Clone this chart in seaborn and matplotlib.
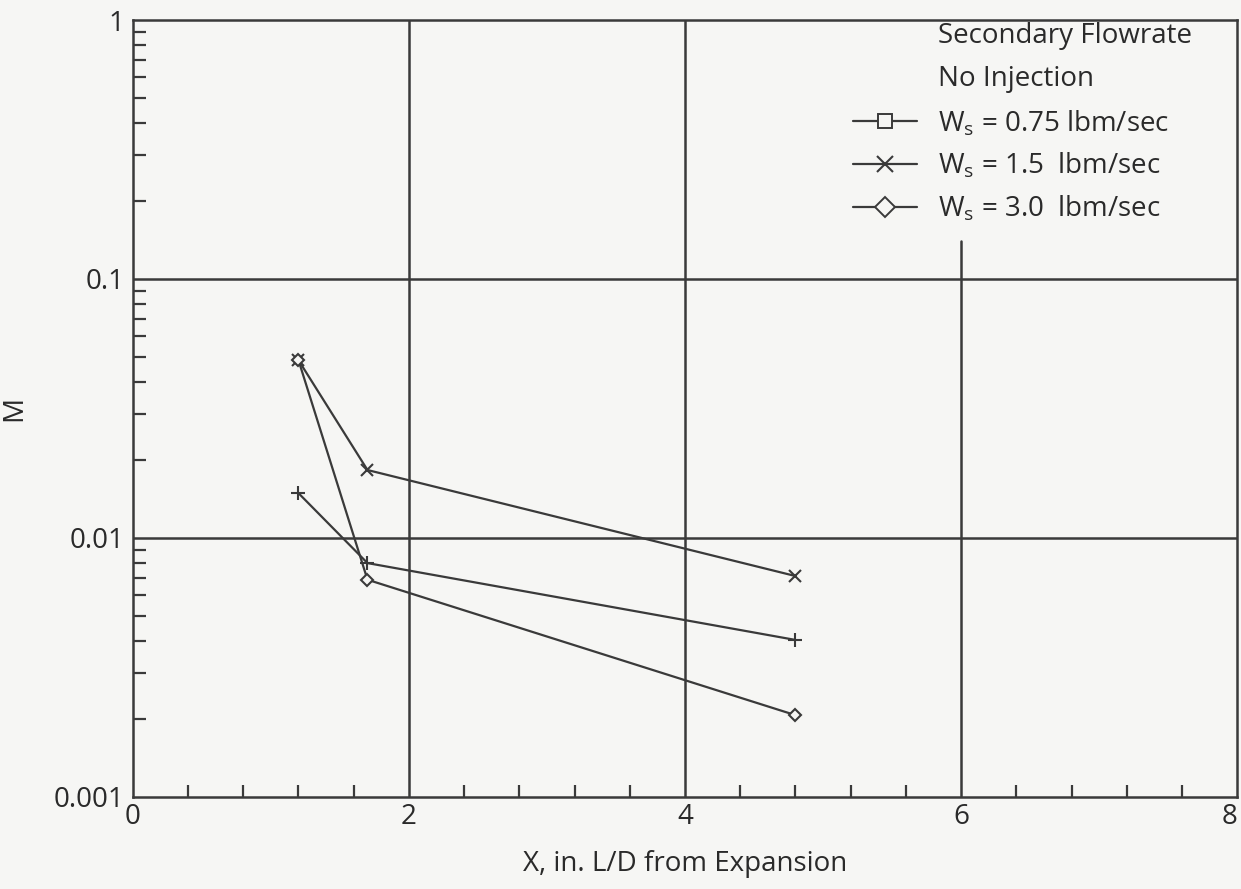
import pandas as pd
import seaborn as sns
import matplotlib.pyplot as plt
from matplotlib import ticker
from matplotlib.lines import Line2D

# values
x_positions = [1.2, 1.7, 4.8]
m_075 = [0.0149, 0.0080, 0.00404]
m_15 = [0.0486, 0.0183, 0.00713]
m_30 = [0.0486, 0.0069, 0.00207]
series_names = ["0.75", "1.5", "3.0"]
legend_labels = ["W$_s$ = 0.75 lbm/sec",
                 "W$_s$ = 1.5  lbm/sec",
                 "W$_s$ = 3.0  lbm/sec"]
header_lines = ["Secondary Flowrate", "No Injection"]
x_ticks = [0, 2, 4, 6, 8]
y_ticks = [0.001, 0.01, 0.1, 1]

ink = "#3a3a3a"
paper = "#f6f6f4"
text_col = "#2a2a2a"
plot_markers = {"0.75": ("+", 10), "1.5": ("x", 8), "3.0": ("D", 6.5)}

sns.set_theme(style="white")
plt.rcParams["font.family"] = ["Open Sans", "DejaVu Sans"]
plt.rcParams["mathtext.default"] = "regular"

df = pd.DataFrame({
    "x": x_positions * 3,
    "M": m_075 + m_15 + m_30,
    "series": [s for s in series_names for _ in x_positions],
})

fig = plt.figure(figsize=(12.41, 8.89), dpi=100, facecolor=paper)
ax = fig.add_axes([0.107, 0.1035, 0.890, 0.874])
ax.set_facecolor(paper)

for name in series_names:
    mk, ms = plot_markers[name]
    sns.lineplot(data=df[df["series"] == name], x="x", y="M", ax=ax,
                 color=ink, linewidth=1.6, marker=mk, markersize=ms,
                 markeredgewidth=1.5, markeredgecolor=ink,
                 markerfacecolor=paper, legend=False)

ax.set_yscale("log")
ax.set_xlim(0, 8)
ax.set_ylim(0.001, 1)
ax.set_xticks(x_ticks)
ax.set_yticks(y_ticks)
ax.xaxis.set_minor_locator(ticker.MultipleLocator(0.4))
ax.yaxis.set_minor_locator(ticker.LogLocator(base=10, subs=range(2, 10)))
ax.yaxis.set_minor_formatter(ticker.NullFormatter())
ax.yaxis.set_major_formatter(ticker.FuncFormatter(lambda v, p: f"{v:g}"))

# grid lines; the x=6 line stops below the legend block
for yv in [0.01, 0.1]:
    ax.axhline(yv, color=ink, linewidth=1.8, zorder=1)
for xv in [2, 4]:
    ax.axvline(xv, color=ink, linewidth=1.8, zorder=1)
ax.axvline(6, ymax=0.716, color=ink, linewidth=1.8, zorder=1)

for sp in ax.spines.values():
    sp.set_color(ink)
    sp.set_linewidth(1.8)
ax.tick_params(which="major", length=0, labelsize=20, labelcolor=text_col)
ax.tick_params(axis="x", which="major", pad=4)
ax.tick_params(axis="y", which="major", pad=6)
ax.tick_params(which="minor", direction="in", length=9, width=1.6, color=ink,
               bottom=True, left=True, top=False, right=False)
# keep the "8" inside the picture
ax.get_xticklabels()[-1].set_horizontalalignment("right")

ax.set_xlabel("X, in. L/D from Expansion", fontsize=20, color=text_col)
ax.set_ylabel("M", fontsize=20, color=text_col)
ax.xaxis.set_label_coords(0.5, -0.068)
ax.yaxis.set_label_coords(-0.095, 0.5)

# legend: two header lines and three marker rows
ax.text(0.729, 0.979, header_lines[0], transform=ax.transAxes,
        fontsize=20, color=text_col, va="center", ha="left")
ax.text(0.729, 0.924, header_lines[1], transform=ax.transAxes,
        fontsize=20, color=text_col, va="center", ha="left")
handles = [
    Line2D([], [], color=ink, lw=1.6, marker="s", markersize=10,
           markerfacecolor=paper, markeredgecolor=ink, markeredgewidth=1.4),
    Line2D([], [], color=ink, lw=1.6, marker="x", markersize=11,
           markeredgecolor=ink, markeredgewidth=1.5),
    Line2D([], [], color=ink, lw=1.6, marker="D", markersize=10,
           markerfacecolor=paper, markeredgecolor=ink, markeredgewidth=1.4),
]
ax.legend(handles, legend_labels, loc="upper left",
          bbox_to_anchor=(0.652, 0.886), frameon=False, fontsize=20,
          handlelength=2.3, handletextpad=0.75, labelspacing=0.48,
          borderpad=0, borderaxespad=0, labelcolor=text_col)

fig.savefig("out.png", dpi=100, facecolor=paper)
